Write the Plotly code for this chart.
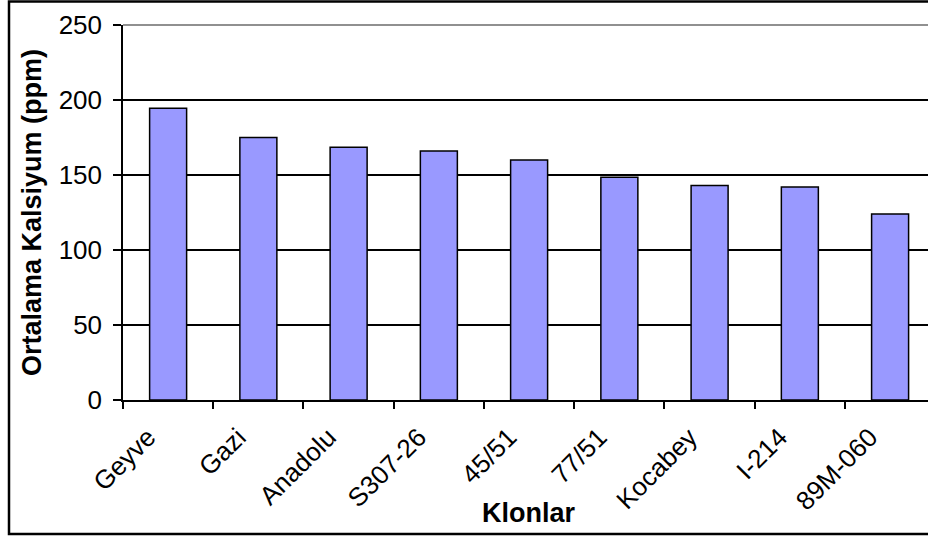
import plotly.graph_objects as go

categories = ["Geyve", "Gazi", "Anadolu", "S307-26", "45/51", "77/51", "Kocabey", "I-214", "89M-060"]
values = [194.5, 175, 168.5, 166, 160, 148.5, 143, 142, 124]
y_ticks = [0, 50, 100, 150, 200, 250]

W, H = 928, 537
L, T, B = 123, 25, 137

fig = go.Figure(go.Bar(
    x=categories, y=values,
    marker=dict(color="#9999FF", line=dict(color="black", width=1.5)),
    width=0.41,
))

FONT = "Arial, Liberation Sans, sans-serif"

def px_x(p):
    return (p - L) / (W - L)

def px_y(p):
    return (H - B - p) / (H - B - T)

fig.update_layout(
    width=W, height=H,
    margin=dict(l=L, r=0, t=T, b=B, pad=0),
    paper_bgcolor="white", plot_bgcolor="white",
    showlegend=False,
    font=dict(family=FONT, color="black", size=26),
    xaxis=dict(
        type="category", range=[-0.5, 8.42],
        showline=True, linecolor="black", linewidth=1.5,
        ticks="outside", tickson="boundaries", ticklen=7, tickwidth=1.5, tickcolor="black",
        tickangle=-45, tickfont=dict(size=26, family=FONT),
        ticklabelshift=-20, ticklabelstandoff=10,
        showgrid=False,
    ),
    yaxis=dict(
        range=[0, 250], tickvals=y_ticks,
        showline=True, linecolor="black", linewidth=1.5,
        ticks="outside", ticklen=8, tickwidth=1.5, tickcolor="black",
        ticklabelstandoff=6,
        tickfont=dict(size=26, family=FONT),
        showgrid=True, gridcolor="black", gridwidth=1.5,
        zeroline=False,
        title=dict(text="<b>Ortalama Kalsiyum (ppm)</b>", font=dict(size=27, family=FONT), standoff=9),
    ),
    annotations=[
        dict(text="<b>Klonlar</b>", xref="paper", yref="paper",
             x=px_x(529), y=px_y(513), xanchor="center", yanchor="middle",
             showarrow=False, font=dict(size=27, family=FONT, color="black")),
    ],
    shapes=[
        dict(type="line", xref="paper", yref="paper", x0=0, x1=1, y0=1, y1=1,
             line=dict(color="#909090", width=2), layer="above"),
        dict(type="rect", xref="paper", yref="paper",
             x0=px_x(9), x1=px_x(940), y0=px_y(534), y1=px_y(1.5),
             line=dict(color="black", width=2.5), layer="above"),
    ],
)

fig.write_html("out.html")
